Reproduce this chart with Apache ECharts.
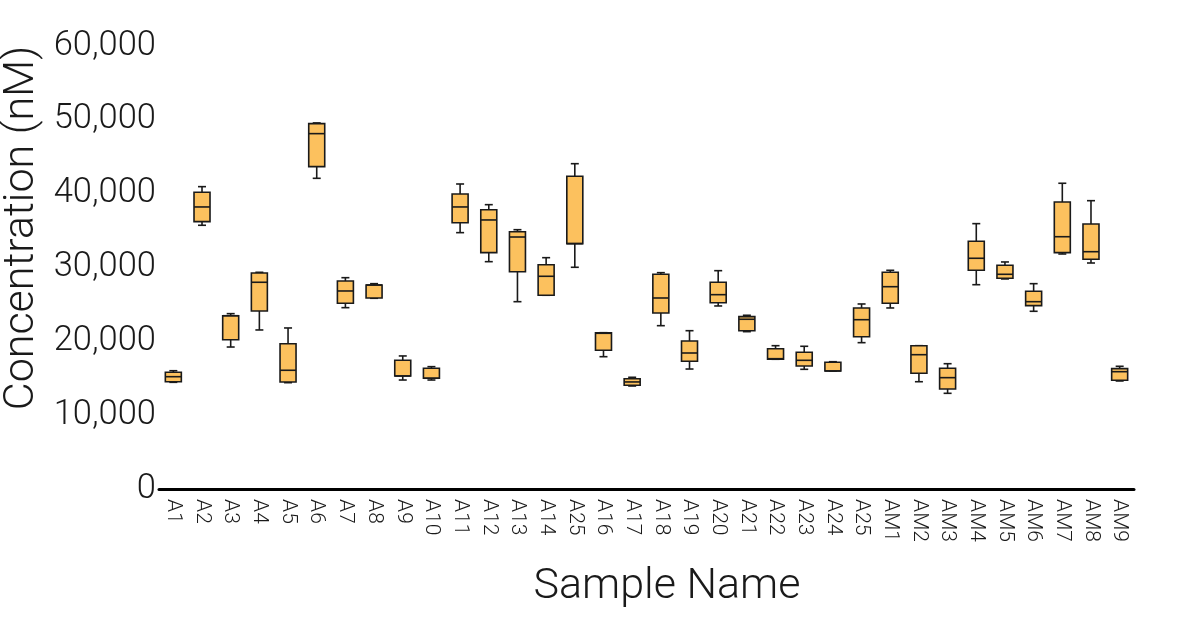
<!DOCTYPE html>
<html>
<head>
<meta charset="utf-8">
<script src="https://cdn.jsdelivr.net/npm/echarts@6/dist/echarts.min.js"></script>
<style>
html,body{margin:0;padding:0;background:#fff;}
#chart{width:1200px;height:644px;}
</style>
</head>
<body>
<div id="chart"></div>
<script>
const categories = ['A1','A2','A3','A4','A5','A6','A7','A8','A9','A10','A11','A12','A13','A14','A25','A16','A17','A18','A19','A20','A21','A22','A23','A24','A25','AM1','AM2','AM3','AM4','AM5','AM6','AM7','AM8','AM9'];
const mins    = [14450,35720,19230,21540,14400,42080,24560,25830,14760,14760,34720,30790,25370,26240,30030,17920,13950,22120,16250,24790,21310,17570,16210,15980,19820,24520,14530,12960,27670,28450,24070,31830,30610,14630];
const q1s     = [14530,36210,20220,24110,14490,43660,25150,25870,15310,14990,36070,32010,29430,26240,33230,18790,14050,23840,17300,25230,21440,17570,16660,15980,20630,25150,15670,13550,29620,28540,24830,32010,31110,14720];
const medians = [15210,38200,23470,28000,16080,48130,26820,27630,15310,15000,38200,36440,34130,28810,33230,21090,14500,25870,18420,26320,22990,17650,17430,15990,22930,27400,18190,15080,31250,29080,25370,34170,32140,15890];
const q3s     = [15810,40190,23470,29260,19680,49480,28170,27630,17430,16350,39960,37830,34850,30380,42360,21170,14940,29080,20050,28000,23340,19000,18520,17160,24520,29350,19410,16350,33550,30300,26780,38870,35890,16300];
const maxs    = [16020,40950,23750,29350,21810,49580,28620,27810,18020,16570,41310,38510,35120,31330,44060,21170,15130,29300,21440,29570,23530,19410,19330,17240,25060,29620,19410,16970,35940,30750,27810,41410,39050,16620];
const yTicks  = [0,10000,20000,30000,40000,50000,60000];

const seriesData = categories.map((c, i) => [i, mins[i], q1s[i], medians[i], q3s[i], maxs[i]]);

const FONT = 'Roboto';
const chart = echarts.init(document.getElementById('chart'), null, {renderer: 'canvas'});

function renderBox(params, api) {
  const i = api.value(0);
  const pMin = api.coord([i, api.value(1)]);
  const pQ1 = api.coord([i, api.value(2)]);
  const pMed = api.coord([i, api.value(3)]);
  const pQ3 = api.coord([i, api.value(4)]);
  const pMax = api.coord([i, api.value(5)]);
  const x = pMed[0];
  const bw = 16, cw = 8;
  const lineStyle = {stroke: '#1a1a1a', lineWidth: 1.6};
  return {
    type: 'group',
    children: [
      {type: 'line', shape: {x1: x, y1: pMax[1], x2: x, y2: pQ3[1]}, style: lineStyle},
      {type: 'line', shape: {x1: x, y1: pQ1[1], x2: x, y2: pMin[1]}, style: lineStyle},
      {type: 'line', shape: {x1: x - cw/2, y1: pMax[1], x2: x + cw/2, y2: pMax[1]}, style: lineStyle},
      {type: 'line', shape: {x1: x - cw/2, y1: pMin[1], x2: x + cw/2, y2: pMin[1]}, style: lineStyle},
      {type: 'rect', shape: {x: x - bw/2, y: pQ3[1], width: bw, height: pQ1[1] - pQ3[1]},
        style: {fill: '#FCC15E', stroke: '#1a1a1a', lineWidth: 1.6}},
      {type: 'line', shape: {x1: x - bw/2, y1: pMed[1], x2: x + bw/2, y2: pMed[1]}, style: lineStyle}
    ]
  };
}

chart.setOption({
  backgroundColor: '#fff',
  animation: false,
  grid: {left: 159, right: 66, top: 46, bottom: 155, containLabel: false},
  xAxis: {
    type: 'category',
    data: categories,
    boundaryGap: true,
    axisLine: {show: true, lineStyle: {color: '#000', width: 3}},
    axisTick: {show: false},
    axisLabel: {interval: 0, rotate: -90, margin: 10, color: '#1a1a1a', fontFamily: FONT, fontWeight: 300, fontSize: 21},
    splitLine: {show: false}
  },
  yAxis: {
    type: 'value',
    min: 0, max: 60000, interval: 10000,
    axisLine: {show: false},
    axisTick: {show: false},
    splitLine: {show: false},
    axisLabel: {
      margin: 3, color: '#1a1a1a', fontFamily: FONT, fontWeight: 300, fontSize: 34.5,
      formatter: v => yTicks.includes(v) ? v.toLocaleString('en-US') : ''
    }
  },
  graphic: [
    {type: 'text', x: 667, y: 587, style: {text: 'Sample Name', fontFamily: FONT, fontWeight: 300, fontSize: 43, fill: '#1a1a1a', align: 'center', verticalAlign: 'middle'}},
    {type: 'text', rotation: Math.PI / 2, x: 22, y: 228, style: {text: 'Concentration (nM)', fontFamily: FONT, fontWeight: 300, fontSize: 43, fill: '#1a1a1a', align: 'center', verticalAlign: 'middle'}}
  ],
  series: [{
    type: 'custom',
    renderItem: renderBox,
    encode: {x: 0, y: [1, 2, 3, 4, 5]},
    data: seriesData
  }]
});
</script>
</body>
</html>
